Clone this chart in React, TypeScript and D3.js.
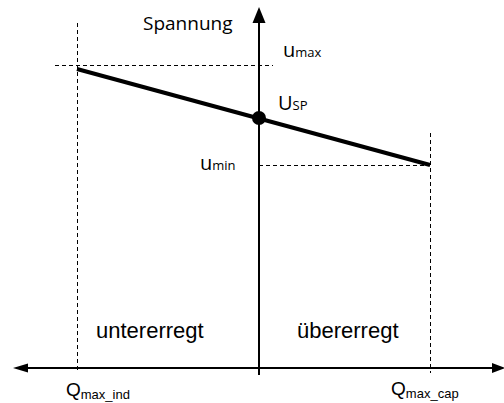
import React from "react";
import * as d3 from "d3";

// Reactive power positions (normalised, Q_max_ind = -1)
const qNames = ["Q_max_ind", "Q_max_cap"];
const qValues = [-1, 0.94];
// Characteristic line: voltage at the Q limits
const lineVoltages = [1.046, 0.95];
const uMaxValue = 1.05;
const uMinValue = 0.95;
const uSetPoint = 0.997;
const regionLabels = ["untererregt", "übererregt"];
const axisTitle = "Spannung";

const W = 504;
const H = 403;

const x = d3.scaleLinear().domain([-1, 1]).range([77, 441]);
const y = d3.scaleLinear().domain([0.95, 1.05]).range([165, 65]);

const x0 = x(0);
const yAxis = 368;
const topFont = "'Open Sans', sans-serif";
const botFont = "'Liberation Sans', Arial, sans-serif";

export default function App() {
  const linePts: [number, number][] = qValues.map((q, i) => [x(q), y(lineVoltages[i])]);
  const lineGen = d3.line();
  const xInd = x(qValues[0]);
  const xCap = x(qValues[1]);
  const yMax = y(uMaxValue);
  const yMin = y(uMinValue);
  const ySP = y(uSetPoint);
  const h = 0.5;
  return (
    <svg width={W} height={H} style={{ position: "absolute", left: 0, top: 0, background: "#fff" }}>
      {/* dashed guides */}
      <g stroke="#000" strokeWidth={1} strokeDasharray="4,3" fill="none" shapeRendering="crispEdges">
        <line x1={xInd + h} y1={23} x2={xInd + h} y2={373} />
        <line x1={xCap + h} y1={133} x2={xCap + h} y2={373} />
        <line x1={55} y1={yMax + h} x2={273} y2={yMax + h} />
        <line x1={x0} y1={yMin + h} x2={xCap} y2={yMin + h} />
      </g>
      {/* axes */}
      <line x1={x0} y1={22} x2={x0} y2={375} stroke="#000" strokeWidth={2} />
      <polygon points={`${x0},7 ${x0 - 6.5},23 ${x0 + 6.5},23`} fill="#000" />
      <line x1={26} y1={yAxis} x2={494} y2={yAxis} stroke="#000" strokeWidth={2} />
      <polygon points={`13,${yAxis} 28,${yAxis - 4.5} 28,${yAxis + 4.5}`} fill="#000" />
      <polygon points={`505,${yAxis} 492,${yAxis - 5} 492,${yAxis + 5}`} fill="#000" />
      {/* characteristic */}
      <path d={lineGen(linePts) || ""} stroke="#000" strokeWidth={4} fill="none" />
      <circle cx={x0} cy={ySP} r={7} fill="#000" />
      {/* labels */}
      <text x={143} y={30} fontFamily={topFont} fontSize={19} fill="#000">{axisTitle}</text>
      <text x={x0 + 24} y={yMax - 8} fontFamily={topFont} fontSize={20} fill="#000">
        u<tspan fontSize={13}>max</tspan>
      </text>
      <text x={x0 + 19} y={ySP - 8} fontFamily={topFont} fontSize={20} fill="#000">
        U<tspan fontSize={13}>SP</tspan>
      </text>
      <text x={x0 - 59} y={yMin + 5} fontFamily={topFont} fontSize={20} fill="#000">
        u<tspan fontSize={13}>min</tspan>
      </text>
      <text x={96} y={338} fontFamily={botFont} fontSize={22} fill="#000">{regionLabels[0]}</text>
      <text x={297} y={338} fontFamily={botFont} fontSize={22} fill="#000">{regionLabels[1]}</text>
      <text x={xInd - 11} y={396} fontFamily={botFont} fontSize={19} fill="#000">
        {qNames[0].slice(0, 1)}<tspan fontSize={13} dy={3}>{qNames[0].slice(2)}</tspan>
      </text>
      <text x={xCap - 39} y={395} fontFamily={botFont} fontSize={19} fill="#000">
        {qNames[1].slice(0, 1)}<tspan fontSize={13} dy={3}>{qNames[1].slice(2)}</tspan>
      </text>
    </svg>
  );
}
